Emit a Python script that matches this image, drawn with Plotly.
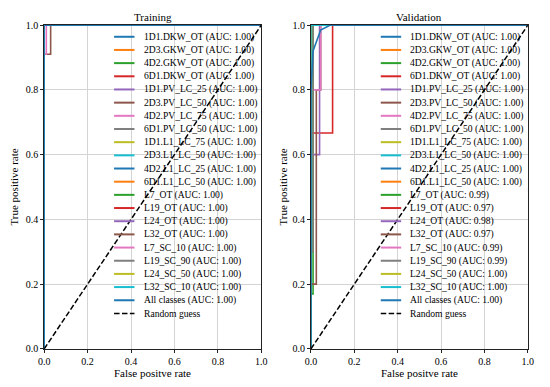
import plotly.graph_objects as go

# ---------------- data ----------------
class_names = [
    "1D1.DKW_OT", "2D3.GKW_OT", "4D2.GKW_OT", "6D1.DKW_OT",
    "1D1.PV_LC_25", "2D3.PV_LC_50", "4D2.PV_LC_75", "6D1.PV_LC_50",
    "1D1.L1_LC_75", "2D3.L1_LC_50", "4D2.L1_LC_25", "6D1.L1_LC_50",
    "L7_OT", "L19_OT", "L24_OT", "L32_OT",
    "L7_SC_10", "L19_SC_90", "L24_SC_50", "L32_SC_10",
]
train_auc = [1.00, 1.00, 1.00, 1.00, 1.00, 1.00, 1.00, 1.00, 1.00, 1.00,
             1.00, 1.00, 1.00, 1.00, 1.00, 1.00, 1.00, 1.00, 1.00, 1.00]
val_auc = [1.00, 1.00, 1.00, 1.00, 1.00, 1.00, 1.00, 1.00, 1.00, 1.00,
           1.00, 1.00, 0.99, 0.97, 0.98, 0.97, 0.99, 0.99, 1.00, 1.00]
train_all_auc = 1.00
val_all_auc = 1.00

perfect_fpr = [0, 0, 1]
perfect_tpr = [0, 1, 1]

train_fpr = [perfect_fpr] * 15 + [[0, 0, 0.03, 0.03, 1], [0, 0, 0.01, 0.01, 1]] + [perfect_fpr] * 3
train_tpr = [perfect_tpr] * 15 + [[0, 0.91, 0.91, 1, 1], [0, 0.91, 0.91, 1, 1]] + [perfect_tpr] * 3
train_all_fpr = [0, 0, 1]
train_all_tpr = [0, 1, 1]

val_fpr = [perfect_fpr] * 12 + [
    [0, 0, 0.01, 0.01, 1],
    [0, 0, 0.1, 0.1, 1],
    [0, 0, 0.04, 0.04, 1],
    [0, 0, 0.025, 0.025, 0.045, 0.045, 1],
    [0, 0, 0.045, 0.045, 1],
    [0, 0, 0.01, 0.01, 1],
] + [perfect_fpr] * 2
val_tpr = [perfect_tpr] * 12 + [
    [0, 0.17, 0.17, 1, 1],
    [0, 0.667, 0.667, 1, 1],
    [0, 0.6, 0.6, 1, 1],
    [0, 0.2, 0.2, 0.8, 0.8, 1, 1],
    [0, 0.8, 0.8, 1, 1],
    [0, 0.3, 0.3, 1, 1],
] + [perfect_tpr] * 2
val_all_fpr = [0, 0, 0.01, 0.045, 0.09, 1]
val_all_tpr = [0, 0.8, 0.92, 0.985, 1, 1]

random_x = [0, 1]
random_y = [0, 1]

tick_vals = [0, 0.2, 0.4, 0.6, 0.8, 1.0]
tick_text = ["0.0", "0.2", "0.4", "0.6", "0.8", "1.0"]

panel_titles = ["Training", "Validation"]
x_title = "False positve rate"
y_title = "True positive rate"

# ---------------- style ----------------
tab10 = ["#1f77b4", "#ff7f0e", "#2ca02c", "#d62728", "#9467bd",
         "#8c564b", "#e377c2", "#7f7f7f", "#bcbd22", "#17becf"]
FONT = "Liberation Serif, Times New Roman, serif"
W, H = 550, 387
LW = 1.6
DASH = "5.5px,2.4px"

x_doms = [[39 / W, 261 / W], [311.7 / W, 533.5 / W]]
y_dom = [(H - 354) / H, (H - 20.7) / H]

fig = go.Figure()

panels = [
    (train_fpr, train_tpr, train_auc, train_all_fpr, train_all_tpr, train_all_auc),
    (val_fpr, val_tpr, val_auc, val_all_fpr, val_all_tpr, val_all_auc),
]

annotations = []
shapes = []

for p, (fprs, tprs, aucs, afpr, atpr, aauc) in enumerate(panels):
    xa = "x" if p == 0 else "x2"
    ya = "y" if p == 0 else "y2"
    labels = []
    colors = []
    dashes = []
    for i, name in enumerate(class_names):
        c = tab10[i % 10]
        fig.add_trace(go.Scatter(x=fprs[i], y=tprs[i], mode="lines",
                                 line=dict(color=c, width=LW), xaxis=xa, yaxis=ya,
                                 showlegend=False, hoverinfo="skip"))
        labels.append(f"{name} (AUC: {aucs[i]:.2f})")
        colors.append(c)
        dashes.append("solid")
    c_all = tab10[len(class_names) % 10]
    fig.add_trace(go.Scatter(x=afpr, y=atpr, mode="lines",
                             line=dict(color=c_all, width=LW), xaxis=xa, yaxis=ya,
                             showlegend=False, hoverinfo="skip"))
    labels.append(f"All classes (AUC: {aauc:.2f})")
    colors.append(c_all)
    dashes.append("solid")
    fig.add_trace(go.Scatter(x=random_x, y=random_y, mode="lines",
                             line=dict(color="black", width=1.5, dash=DASH),
                             xaxis=xa, yaxis=ya, showlegend=False, hoverinfo="skip"))
    labels.append("Random guess")
    colors.append("black")
    dashes.append(DASH)

    # manual legend (matplotlib-like, compact)
    n = len(labels)
    y0_px, step_px = 32.7, 13.56
    for k in range(n):
        ypx = y0_px + step_px * k
        yd = (354 - ypx) / 333.3
        shapes.append(dict(type="line", xref=f"{xa} domain", yref=f"{ya} domain",
                           x0=0.322, x1=0.416, y0=yd, y1=yd,
                           line=dict(color=colors[k], width=2 if dashes[k] == "solid" else 1.5,
                                     dash=dashes[k])))
        annotations.append(dict(text=labels[k], xref=f"{xa} domain", yref=f"{ya} domain",
                                x=0.449, y=yd, xanchor="left", yanchor="middle",
                                showarrow=False, font=dict(family=FONT, size=9.6, color="black")))

    cx = (x_doms[p][0] + x_doms[p][1]) / 2
    annotations.append(dict(text=panel_titles[p], xref="paper", yref="paper",
                            x=cx, y=(H - 12) / H, xanchor="center", yanchor="middle",
                            showarrow=False, font=dict(family=FONT, size=11, color="black")))
    annotations.append(dict(text=x_title, xref="paper", yref="paper",
                            x=cx, y=(H - 378.5) / H, xanchor="center", yanchor="middle",
                            showarrow=False, font=dict(family=FONT, size=11, color="black")))
    annotations.append(dict(text=y_title, xref="paper", yref="paper",
                            x=(8 if p == 0 else 283) / W, y=(H - 187) / H,
                            xanchor="center", yanchor="middle", textangle=-90,
                            showarrow=False, font=dict(family=FONT, size=11, color="black")))

axis_common = dict(range=[0, 1], tickvals=tick_vals, ticktext=tick_text,
                   showgrid=True, gridcolor="#d4d4d4", gridwidth=1,
                   showline=True, linecolor="#222222", linewidth=1, mirror=True,
                   ticks="outside", ticklen=3, tickcolor="#222222",
                   zeroline=False, tickfont=dict(family=FONT, size=10, color="black"))

fig.update_layout(
    width=W, height=H,
    margin=dict(l=0, r=0, t=0, b=0),
    paper_bgcolor="white", plot_bgcolor="white",
    xaxis=dict(domain=x_doms[0], anchor="y", **axis_common),
    yaxis=dict(domain=y_dom, anchor="x", **axis_common),
    xaxis2=dict(domain=x_doms[1], anchor="y2", **axis_common),
    yaxis2=dict(domain=y_dom, anchor="x2", **axis_common),
    annotations=annotations,
    shapes=shapes,
    showlegend=False,
)

fig.write_html("out.html", config={"displayModeBar": False})

# remove default page margins so the 550x387 figure fills the window exactly
with open("out.html", "r", encoding="utf-8") as f:
    html = f.read()
html = html.replace("<head>", "<head><style>html,body{margin:0;padding:0;overflow:hidden;}</style>", 1)
with open("out.html", "w", encoding="utf-8") as f:
    f.write(html)
